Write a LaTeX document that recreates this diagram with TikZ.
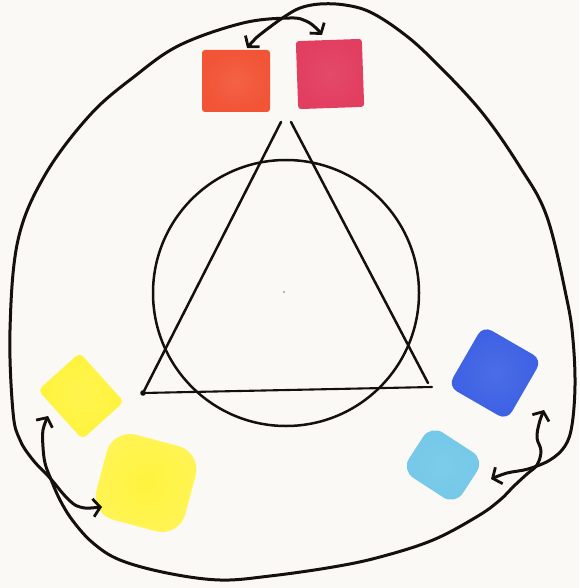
\documentclass[tikz,border=0pt]{standalone}
\usetikzlibrary{arrows.meta}
\definecolor{paper}{RGB}{251,249,246}
\definecolor{wred}{RGB}{242,84,54}
\definecolor{wmag}{RGB}{226,62,96}
\definecolor{wyel}{RGB}{255,243,62}
\definecolor{wblue}{RGB}{60,96,228}
\definecolor{wcyan}{RGB}{116,200,232}
\definecolor{ink}{RGB}{20,16,14}
\begin{document}
\begin{tikzpicture}[x=1pt,y=-1pt,
  patch/.style={draw=none, inner sep=0pt, outer sep=0pt, rounded corners=3pt},
  barb/.tip={Straight Barb[length=7pt,width=18pt,line width=2.8pt]},
  pair/.style={draw=ink, line width=3pt, line cap=round, line join=round, barb-barb},
  geom/.style={draw=ink, line width=2.5pt, line cap=round}]
\fill[paper] (0,0) rectangle (579,588);
\useasboundingbox (0,0) rectangle (579,588);

% watercolour patches
\node[patch, shade, inner color=wred!92!white, outer color=wred, minimum width=68pt, minimum height=62pt] (red) at (236,81) {};
\node[patch, shade, inner color=wmag!94!white, outer color=wmag, minimum width=66pt, minimum height=68pt, rotate=2] (mag) at (330,74) {};
\node[patch, shade, inner color=wyel!92!white, outer color=wyel, rotate=-48, minimum width=66pt, minimum height=56pt, rounded corners=5pt] (ylw1) at (81,396) {};
\node[patch, shade, inner color=wyel, outer color=wyel!88!white, rotate=-15, minimum width=92pt, minimum height=88pt, rounded corners=24pt] (ylw2) at (146,483) {};
\node[patch, shade, inner color=wblue!92!white, outer color=wblue, rotate=-30, minimum width=68pt, minimum height=70pt, rounded corners=10pt] (blue) at (495,373) {};
\node[patch, shade, inner color=wcyan!94!white, outer color=wcyan, rotate=-33, minimum width=64pt, minimum height=54pt, rounded corners=14pt] (cyan) at (443,465) {};

% triangle and circle
\coordinate (A) at (143,393);
\coordinate (Bl) at (281,122);
\coordinate (Br) at (291,122);
\coordinate (C) at (428,383);
\coordinate (Cb) at (432,387);
\coordinate (O) at (286,293);
\draw[geom] (A) -- (Bl);
\draw[geom] (Br) -- (C);
\draw[geom, line width=2.1pt] (A) -- (Cb);
\fill[ink] (A) circle[radius=2.8];
\draw[geom] (O) circle[radius=133];
\fill[ink!60] (284,292) circle[radius=0.9];

% arrow end points
\coordinate (tR) at (247,48);
\coordinate (tM) at (322,35);
\coordinate (tY1) at (48,416);
\coordinate (tY2) at (102,507);
\coordinate (tB) at (544,410);
\coordinate (tC) at (491,479);

% magenta <-> lower yellow
\draw[pair] plot[smooth, tension=0.6] coordinates {(tY2) (80,507) (67,498) (50,478) (33,460) (20,440) (13,412) (10,330) (18,240) (45,175) (90,115) (135,76) (180,45) (243,23) (290,18) (306,21) (316,28) (tM)};

% red <-> cyan
\draw[pair] plot[smooth, tension=0.6] coordinates {(tR) (256,38) (270,27) (284,17) (300,8) (320,4) (345,5) (370,12) (400,31) (430,57) (480,110) (520,167) (547,217) (567,300) (573,340) (575,385) (572,425) (565,446) (550,460) (528,469) (507,473) (tC)};

% blue <-> upper yellow
\draw[pair] plot[smooth, tension=0.6] coordinates {(tB) (539,424) (537,438) (541,451) (537,465) (527,474) (514,486) (500,500) (478,516) (433,540) (380,557) (333,567) (270,576) (220,580) (167,573) (120,560) (93,543) (73,521) (60,500) (50,477) (45,463) (43,447) (43,430) (tY1)};
\end{tikzpicture}
\end{document}
